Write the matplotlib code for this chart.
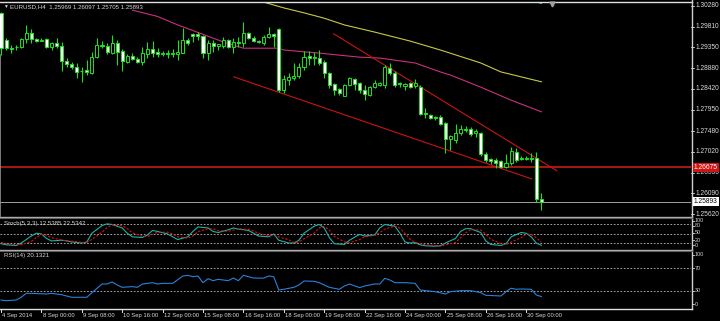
import numpy as np
import matplotlib
matplotlib.use("Agg")
import matplotlib.pyplot as plt
from matplotlib.transforms import blended_transform_factory

plt.rcParams['font.family'] = ['Liberation Sans', 'DejaVu Sans']

W, H = 720, 321

# EURUSD H4 candles, 4 Sep 16:00 .. 30 Sep 12:00
opens = [1.3012, 1.2951, 1.2933, 1.2935, 1.2936, 1.2954, 1.2967, 1.2954, 1.2950, 1.2954,
         1.2936, 1.2945, 1.2938, 1.2904, 1.2898, 1.2891, 1.2881, 1.2884, 1.2878, 1.2913,
         1.2940, 1.2938, 1.2922, 1.2945, 1.2927, 1.2902, 1.2916, 1.2909, 1.2902, 1.2920,
         1.2931, 1.2925, 1.2920, 1.2922, 1.2920, 1.2920, 1.2922, 1.2951, 1.2965, 1.2965,
         1.2960, 1.2922, 1.2945, 1.2938, 1.2938, 1.2951, 1.2936, 1.2947, 1.2945, 1.2967,
         1.2956, 1.2949, 1.2945, 1.2958, 1.2965, 1.2976, 1.2840, 1.2862, 1.2866, 1.2871,
         1.2891, 1.2916, 1.2911, 1.2911, 1.2902, 1.2878, 1.2853, 1.2842, 1.2826, 1.2851,
         1.2864, 1.2855, 1.2840, 1.2828, 1.2846, 1.2851, 1.2851, 1.2889, 1.2878, 1.2855,
         1.2849, 1.2855, 1.2849, 1.2846, 1.2788, 1.2784, 1.2779, 1.2779, 1.2766, 1.2730,
         1.2728, 1.2744, 1.2753, 1.2753, 1.2744, 1.2744, 1.2697, 1.2685, 1.2683, 1.2681,
         1.2668, 1.2677, 1.2701, 1.2688, 1.2685, 1.2688, 1.2688, 1.25969]
highs = [1.3014, 1.2956, 1.2940, 1.2940, 1.2956, 1.2985, 1.2976, 1.2956, 1.2956, 1.2956,
         1.2947, 1.2956, 1.2947, 1.2911, 1.2902, 1.2900, 1.2891, 1.2907, 1.2925, 1.2956,
         1.2949, 1.2945, 1.2962, 1.2951, 1.2931, 1.2920, 1.2922, 1.2913, 1.2936, 1.2947,
         1.2949, 1.2933, 1.2927, 1.2929, 1.2931, 1.2951, 1.2978, 1.2956, 1.2967, 1.2969,
         1.2962, 1.2951, 1.2951, 1.2942, 1.2958, 1.2954, 1.2956, 1.2958, 1.2992, 1.2969,
         1.2960, 1.2951, 1.2962, 1.2980, 1.2967, 1.2978, 1.2873, 1.2878, 1.2900, 1.2900,
         1.2927, 1.2927, 1.2925, 1.2929, 1.2907, 1.2880, 1.2855, 1.2844, 1.2853, 1.2869,
         1.2866, 1.2858, 1.2851, 1.2849, 1.2862, 1.2858, 1.2896, 1.2900, 1.2882, 1.2858,
         1.2855, 1.2858, 1.2864, 1.2851, 1.2799, 1.2786, 1.2782, 1.2784, 1.2768, 1.2739,
         1.2764, 1.2761, 1.2759, 1.2757, 1.2753, 1.2746, 1.2701, 1.2688, 1.2688, 1.2683,
         1.2697, 1.2712, 1.2710, 1.2692, 1.2692, 1.2699, 1.2701, 1.26097]
lows = [1.2918, 1.2929, 1.2922, 1.2929, 1.2933, 1.2945, 1.2945, 1.2947, 1.2949, 1.2933,
        1.2929, 1.2933, 1.2882, 1.2891, 1.2887, 1.2866, 1.2858, 1.2873, 1.2876, 1.2911,
        1.2933, 1.2920, 1.2920, 1.2896, 1.2882, 1.2900, 1.2907, 1.2900, 1.2896, 1.2911,
        1.2913, 1.2913, 1.2916, 1.2911, 1.2913, 1.2907, 1.2922, 1.2940, 1.2947, 1.2951,
        1.2911, 1.2907, 1.2925, 1.2929, 1.2933, 1.2933, 1.2922, 1.2936, 1.2936, 1.2954,
        1.2947, 1.2945, 1.2940, 1.2956, 1.2936, 1.2835, 1.2833, 1.2851, 1.2862, 1.2866,
        1.2884, 1.2896, 1.2896, 1.2896, 1.2866, 1.2844, 1.2828, 1.2828, 1.2826, 1.2849,
        1.2840, 1.2833, 1.2817, 1.2826, 1.2844, 1.2849, 1.2844, 1.2873, 1.2846, 1.2846,
        1.2840, 1.2844, 1.2844, 1.2784, 1.2777, 1.2775, 1.2773, 1.2761, 1.2699, 1.2706,
        1.2721, 1.2739, 1.2746, 1.2737, 1.2735, 1.2692, 1.2679, 1.2674, 1.2665, 1.2665,
        1.2665, 1.2672, 1.2679, 1.2683, 1.2683, 1.2679, 1.2589, 1.25705]
closes = [1.2933, 1.2933, 1.2932, 1.2936, 1.2954, 1.2967, 1.2954, 1.2949, 1.2952, 1.2936,
          1.2945, 1.2938, 1.2904, 1.2898, 1.2891, 1.2880, 1.2882, 1.2880, 1.2913, 1.2940,
          1.2938, 1.2925, 1.2945, 1.2925, 1.2904, 1.2916, 1.2909, 1.2902, 1.2922, 1.2931,
          1.2922, 1.2920, 1.2922, 1.2920, 1.2922, 1.2925, 1.2951, 1.2945, 1.2960, 1.2960,
          1.2922, 1.2945, 1.2938, 1.2942, 1.2951, 1.2936, 1.2947, 1.2945, 1.2967, 1.2956,
          1.2949, 1.2947, 1.2958, 1.2965, 1.2960, 1.2840, 1.2864, 1.2869, 1.2871, 1.2891,
          1.2913, 1.2911, 1.2913, 1.2900, 1.2878, 1.2851, 1.2840, 1.2833, 1.2851, 1.2866,
          1.2853, 1.2840, 1.2831, 1.2846, 1.2855, 1.2855, 1.2891, 1.2878, 1.2851, 1.2853,
          1.2853, 1.2846, 1.2855, 1.2786, 1.2786, 1.2777, 1.2777, 1.2764, 1.2730, 1.2737,
          1.2744, 1.2753, 1.2750, 1.2741, 1.2748, 1.2697, 1.2683, 1.2681, 1.2677, 1.2668,
          1.2677, 1.2703, 1.2683, 1.2685, 1.2688, 1.2685, 1.2597, 1.25893]

# moving averages (bar index, price)
ma_yellow_idx = [50, 52, 56, 60, 64, 68, 74, 81, 87, 95, 99, 103, 107]
ma_yellow = [1.3041, 1.3036, 1.3023, 1.3012, 1.3000, 1.2985, 1.2969, 1.2949, 1.2929, 1.2900,
             1.2880, 1.2869, 1.2858]
ma_magenta_idx = [26, 31, 35, 40, 44, 48, 55, 56, 63, 71, 75, 82, 87, 89, 95, 101, 107]
ma_magenta = [1.3018, 1.3004, 1.2985, 1.2964, 1.2947, 1.2933, 1.2933, 1.2929, 1.2922, 1.2913,
              1.2911, 1.2900, 1.2880, 1.2873, 1.2846, 1.2817, 1.2791]
ma_teal_idx = [105, 107]
ma_teal = [1.3040, 1.3033]

# drawn objects
trend_upper = ([65.9, 110.1], [1.2965, 1.2659])
trend_lower = ([46.1, 105.1], [1.2869, 1.2641])
hline_level = 1.26675
last_price = 1.25893

# Stochastic(5,3,3)
stoch_idx = [0, 1, 3, 4, 6, 7, 8, 9, 10, 12, 13, 14, 16, 17, 18, 20, 21, 22, 24, 25, 26, 28,
             29, 30, 31, 33, 34, 35, 37, 38, 39, 41, 42, 43, 45, 46, 47, 49, 50, 51, 53, 54,
             55, 57, 58, 59, 60, 62, 63, 64, 65, 66, 68, 69, 71, 72, 74, 75, 76, 78, 79, 80,
             81, 82, 83, 84, 86, 87, 88, 90, 91, 92, 93, 95, 96, 97, 99, 100, 101, 103, 104,
             105, 106, 107]
stoch_main = [17.7, 14.3, 12, 20, 42.6, 51.7, 49.4, 34.7, 26.8, 29, 26.8, 23.4, 20, 23.4, 51.7,
              76.6, 82, 80, 68.7, 51.7, 40, 38, 46, 60.8, 57.4, 49.4, 40, 31.3, 40, 57.4, 72,
              68.7, 57.4, 54, 63, 68.7, 65.3, 60.8, 51.7, 42.6, 40, 49.4, 29, 20, 20, 29, 51.7,
              74.3, 80, 68.7, 38, 17.7, 15.5, 29, 48, 42.6, 46, 68.7, 80, 74.3, 51.7, 23.4, 20,
              21.2, 14.3, 11, 9.8, 11, 20, 34.7, 57.4, 66.4, 66.4, 54, 26.8, 15.5, 12, 17.7, 40,
              54, 51.7, 40, 20, 12.5385]
stoch_signal = [22, 18, 14, 15, 25, 38, 48, 45, 37, 30, 27, 26, 22, 22, 32, 55, 70, 79, 76, 67,
                53, 42, 41, 48, 55, 55, 49, 40, 36, 43, 57, 66, 66, 60, 58, 62, 66, 64, 59, 51,
                44, 44, 40, 30, 22, 23, 34, 52, 69, 74, 62, 41, 24, 21, 31, 40, 45, 53, 65, 75,
                68, 50, 32, 22, 19, 15, 12, 10, 14, 22, 37, 53, 63, 62, 48, 32, 18, 15, 23, 37,
                49, 48, 37, 22.5342]

# RSI(14)
rsi_idx = [0, 1, 3, 4, 5, 6, 9, 10, 12, 13, 14, 17, 18, 20, 21, 22, 23, 24, 26, 27, 28, 30,
           31, 32, 34, 36, 37, 38, 39, 40, 41, 42, 43, 45, 46, 47, 48, 50, 52, 53, 54, 55,
           56, 58, 59, 60, 62, 63, 65, 67, 68, 69, 71, 72, 74, 75, 76, 77, 78, 80, 82, 83,
           84, 86, 88, 89, 91, 93, 95, 96, 99, 100, 101, 102, 103, 105, 106, 107]
rsi_vals = [14.1, 12.9, 14.1, 18.9, 25.9, 25.9, 24.7, 25.9, 23.5, 21.2, 18.9, 18.9, 27, 42.3,
            42.3, 45.9, 40.6, 36.5, 37.7, 36.5, 42.3, 44.7, 42.3, 43.5, 43.5, 56.4, 57.6, 55.2,
            56.4, 44.7, 51.7, 48.2, 50.6, 48.2, 52.9, 48.2, 57.6, 52.9, 52.6, 56.4, 55.2, 31.8,
            33, 36.5, 40.6, 47.6, 47.1, 44.7, 36.5, 33, 38.8, 42.3, 36, 38.8, 42.3, 42.3, 52.4,
            49.4, 44.7, 44.7, 43.5, 31.8, 30.6, 28.8, 24.7, 28.8, 30.6, 30.6, 27.1, 22.4, 21.2,
            28.8, 34.8, 33, 33.5, 33, 23, 20.1321]

price_levels = [1.30280, 1.29810, 1.29350, 1.28880, 1.28420, 1.27950, 1.27480, 1.27020,
                1.26550, 1.26090, 1.25620]
time_ticks = [0, 8, 16, 24, 32, 40, 48, 56, 64, 72, 80, 88, 96, 104]
time_labels = ["4 Sep 2014", "8 Sep 00:00", "9 Sep 08:00", "10 Sep 16:00", "12 Sep 00:00",
               "15 Sep 08:00", "16 Sep 16:00", "18 Sep 00:00", "19 Sep 08:00", "22 Sep 16:00",
               "24 Sep 00:00", "25 Sep 08:00", "26 Sep 16:00", "30 Sep 00:00"]

GREEN = '#1ee11e'
TXT = '#d8d8d8'
FS = 4.8

fig = plt.figure(figsize=(7.2, 3.21), dpi=100, facecolor='black')


def rect(top, bottom, right=691):
    return [0, 1 - bottom / H, right / W, (bottom - top) / H]


px_per_bar = 5.05
xlo = -1 / px_per_bar
xhi = xlo + 691 / px_per_bar

ax = fig.add_axes(rect(2, 216))
ax.set_ylim(1.25582, 1.30362)
ax_st = fig.add_axes(rect(218.3, 249.2))
ax_st.set_ylim(0, 100)
ax_rsi = fig.add_axes(rect(251.3, 308))
ax_rsi.set_ylim(0, 100)
for a in (ax, ax_st, ax_rsi):
    a.set_xlim(xlo, xhi)
    a.axis('off')

# candles
x = np.arange(len(opens))
o = np.array(opens)
c = np.array(closes)
ax.vlines(x, lows, highs, color=GREEN, lw=0.8, zorder=3)
faces = np.where(c > o, 'black', 'white')
ax.bar(x, c - o, bottom=o, width=0.6, color=faces, edgecolor=GREEN, lw=0.7, zorder=4)

ax.plot(ma_yellow_idx, ma_yellow, color='#c8c846', lw=0.8, zorder=2)
ax.plot(ma_magenta_idx, ma_magenta, color='#c8307c', lw=0.8, zorder=2)
ax.plot(ma_teal_idx, ma_teal, color='#40c0a0', lw=0.8, zorder=2)
ax.plot(*trend_upper, color='#c81414', lw=0.8, zorder=2)
ax.plot(*trend_lower, color='#c81414', lw=0.8, zorder=2)
ax.axhline(hline_level, color='#a81818', lw=1.4, zorder=1)
ax.axhline(last_price, color='#a0a0a0', lw=0.7, zorder=1)

ax.plot([xlo, xlo], [1.25582, 1.2918], color='#909090', lw=1.2, clip_on=False)

# price scale
yt = ax.get_yaxis_transform()
for p in price_levels:
    ax.plot([1.0, 694 / 691], [p, p], color=TXT, lw=0.6, transform=yt, clip_on=False)
    ax.text(696 / 691, p, f"{p:.5f}", transform=yt, color=TXT, fontsize=FS,
            va='center', ha='left', clip_on=False)

# stochastic
for lv in (80, 50, 20):
    ax_st.axhline(lv, color='#c0c0c0', lw=0.6, ls=(0, (2, 2)))
ax_st.plot(stoch_idx, stoch_main, color='#20b2aa', lw=0.8)
ax_st.plot(stoch_idx, stoch_signal, color='#e01010', lw=0.8, ls=(0, (2, 1.5)))

# RSI
for lv in (70, 30):
    ax_rsi.axhline(lv, color='#c0c0c0', lw=0.6, ls=(0, (2, 2)))
ax_rsi.plot(rsi_idx, rsi_vals, color='#2a80d8', lw=0.8)

# frame / overlay in pixel coords
ov = fig.add_axes([0, 0, 1, 1], zorder=1)
ov.set_xlim(0, W)
ov.set_ylim(H, 0)
ov.axis('off')
ov.plot([0, 691.5], [1.5, 1.5], color='#e0e0e0', lw=1)
ov.plot([691.5, 691.5], [0, 308.5], color='#d0d0d0', lw=1)
for yy in (216.5, 249.5):
    ov.plot([0, 691.5], [yy, yy], color='#b0b0b0', lw=1)
    ov.plot([0, 691.5], [yy + 1, yy + 1], color='#606060', lw=0.8)
ov.plot([0, 691.5], [308.5, 308.5], color='#e0e0e0', lw=1)
ov.plot([552], [3.5], marker='v', color='#a0a0a0', ms=3.5, lw=0)

# time axis
tt = blended_transform_factory(ax_rsi.transData, ov.transData)
for b, lab in zip(time_ticks, time_labels):
    ov.plot([b, b], [308.5, 312], color='#e0e0e0', lw=0.7, transform=tt)
    ov.text(b + 0.25, 315.5, lab, transform=tt, color=TXT, fontsize=4.2,
            ha='left', va='center')

# indicator scales
for lab, yy in (("100", 220.8), ("80", 225.6), ("50", 233), ("20", 240.4), ("0", 245.4),
                ("100", 254.5), ("70", 268.3), ("30", 291), ("0", 304)):
    ov.plot([691.5, 694], [yy, yy], color=TXT, lw=0.6)
    ov.text(695, yy, lab, color=TXT, fontsize=3.9, ha='left', va='center')

# labels
ov.text(3, 6.5, "\u25bc", color=TXT, fontsize=3.5, ha='left', va='center')
ov.text(10, 6.5, "EURUSD,H4  1.25969 1.26097 1.25705 1.25893", color=TXT,
        fontsize=4.4, ha='left', va='center')
ov.text(4, 223.5, "Stoch(5,3,3) 12.5385 22.5342", color=TXT, fontsize=4.4,
        ha='left', va='center')
ov.text(4, 255.5, "RSI(14) 20.1321", color=TXT, fontsize=4.4, ha='left', va='center')

ov.text(694, 167.5, f"{hline_level:.5f}", color='white', fontsize=FS, ha='left', va='center',
        bbox=dict(boxstyle='square,pad=0.15', facecolor='#d01414', edgecolor='none'))
ov.text(694, 201.5, f"{last_price:.5f}", color='black', fontsize=FS, ha='left', va='center',
        bbox=dict(boxstyle='square,pad=0.15', facecolor='white', edgecolor='none'))

fig.savefig("out.png", dpi=100, facecolor='black')
